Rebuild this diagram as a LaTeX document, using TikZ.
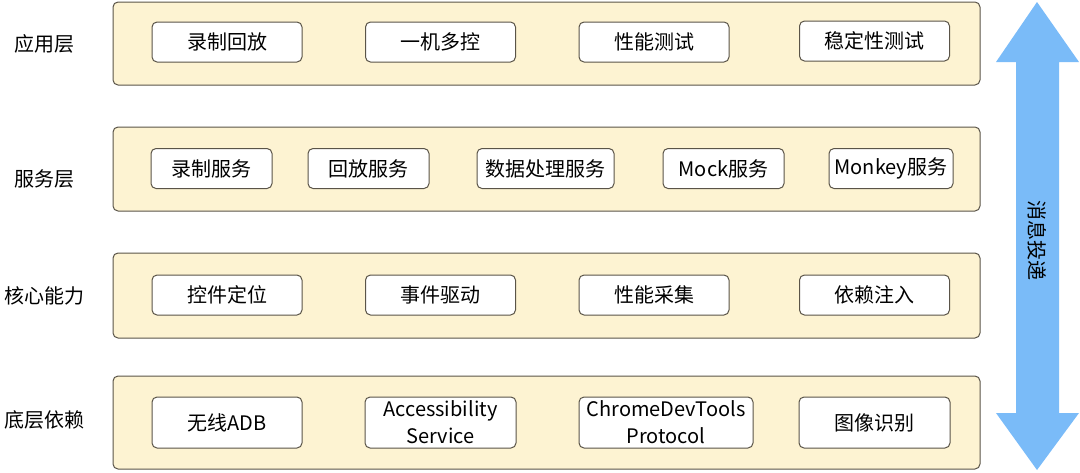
\documentclass[tikz,border=0pt]{standalone}
\usepackage{fontspec}
\setmainfont{Noto Sans CJK SC}
\definecolor{layerfill}{HTML}{FDF3D2}
\definecolor{edgegray}{HTML}{5A5448}
\definecolor{arrowblue}{HTML}{7ABBF8}
\tikzset{
    layer/.style={draw=edgegray, line width=1pt, fill=layerfill, rounded corners=5pt, inner sep=0pt},
    item/.style={draw=edgegray, line width=1pt, fill=white, rounded corners=5pt, align=center,
        inner sep=0pt, minimum height=40pt, font=\fontsize{20}{27}\selectfont},
    tag/.style={font=\fontsize{20}{24}\selectfont}
}
\begin{document}
\begin{tikzpicture}[x=1pt, y=-1pt]
        \useasboundingbox (0, 0) rectangle (1080, 472);
        % layers
        \node[layer, minimum width=867, minimum height=83] (app) at (546.5, 43.5) {};
        \node[layer, minimum width=867, minimum height=84] (svc) at (546.5, 169) {};
        \node[layer, minimum width=867, minimum height=85] (core) at (546.5, 295.5) {};
        \node[layer, minimum width=867, minimum height=93] (base) at (546.5, 422.5) {};
        \node[tag] (appname) at (45, 43.5) {应用层};
        \node[tag] (svcname) at (45, 179) {服务层};
        \node[tag] (corename) at (45, 295.5) {核心能力};
        \node[tag] (basename) at (45, 420) {底层依赖};
        % application
        \node[item, minimum width=150] (record) at (227, 42) {录制回放};
        \node[item, minimum width=150] (multi) at (440.5, 42) {一机多控};
        \node[item, minimum width=150] (perftest) at (654, 42) {性能测试};
        \node[item, minimum width=150] (stabtest) at (874.5, 41) {稳定性测试};
        % services
        \node[item, minimum width=121] (recsvc) at (211.5, 168.5) {录制服务};
        \node[item, minimum width=121] (playsvc) at (368.5, 168.5) {回放服务};
        \node[item, minimum width=137] (datasvc) at (545.5, 168.5) {数据处理服务};
        \node[item, minimum width=121] (mocksvc) at (723.5, 168.5) {Mock服务};
        \node[item, minimum width=124] (monkeysvc) at (891, 168.5) {Monkey服务};
        % core
        \node[item, minimum width=150] (locate) at (227, 295) {控件定位};
        \node[item, minimum width=150] (event) at (440.5, 295) {事件驱动};
        \node[item, minimum width=150] (perfget) at (654, 295) {性能采集};
        \node[item, minimum width=150] (inject) at (874.5, 295) {依赖注入};
        % base
        \node[item, minimum width=150, minimum height=51] (adb) at (227, 422.5) {无线ADB};
        \node[item, minimum width=151, minimum height=51] (access) at (440.5, 422.5) {Accessibility\\Service};
        \node[item, minimum width=174, minimum height=51] (cdp) at (666, 422.5) {ChromeDevTools\\Protocol};
        \node[item, minimum width=151, minimum height=51] (image) at (874.5, 422.5) {图像识别};
        % message arrow
        \fill[arrowblue] (1037, 2) -- (1079, 62) -- (1059, 62) -- (1059, 413) -- (1079, 413)
            -- (1037, 470) -- (996, 413) -- (1016, 413) -- (1016, 62) -- (996, 62) -- cycle;
        \node[tag, rotate=-90] (msg) at (1037, 240) {消息投递};
\end{tikzpicture}
\end{document}
